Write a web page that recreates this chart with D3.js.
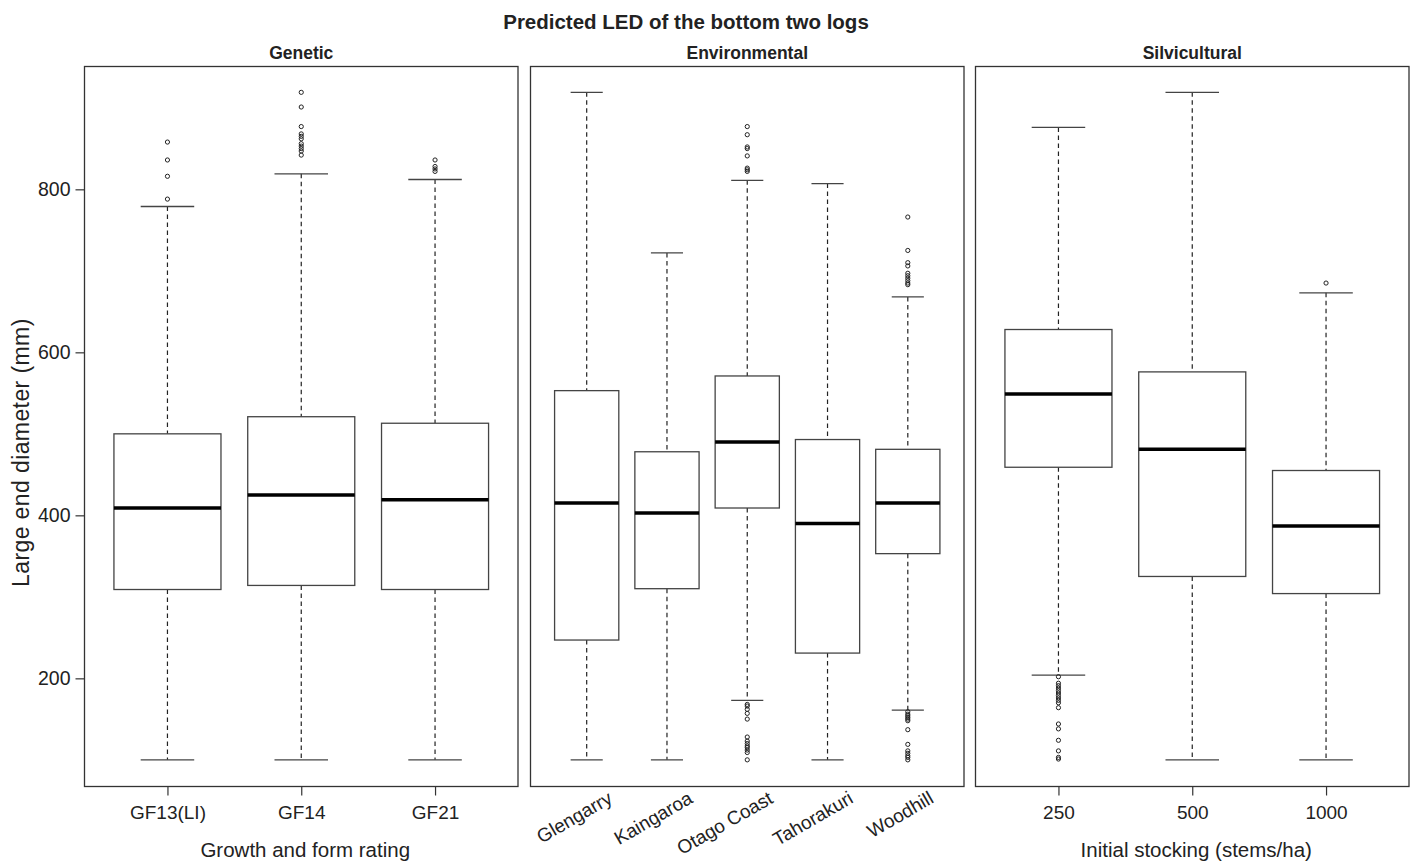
<!DOCTYPE html>
<html>
<head>
<meta charset="utf-8">
<script src="https://cdn.jsdelivr.net/npm/d3@7"></script>
<style>
  body { margin: 0; background: #fff; }
  text { font-family: "Liberation Sans", Arial, sans-serif; fill: #222; }
</style>
</head>
<body>
<script>
// Boxplot data (mm)

// Genetic
var genCats = ["GF13(LI)", "GF14", "GF21"];
var genLo  = [100, 100, 100];
var genQ1  = [309, 314, 309];
var genMed = [409, 425, 419];
var genQ3  = [500, 521, 513];
var genHi  = [779, 819, 812];
var genOut = [
  [858, 836, 816, 788],
  [919, 901, 877, 868, 865, 862, 856, 853, 850, 847, 842],
  [836, 828, 825, 822]
];

// Environmental
var envCats = ["Glengarry", "Kaingaroa", "Otago Coast", "Tahorakuri", "Woodhill"];
var envLo  = [100, 100, 173, 100, 161];
var envQ1  = [247, 310, 409, 231, 353];
var envMed = [415, 403, 490, 390, 415];
var envQ3  = [553, 478, 571, 493, 481];
var envHi  = [919, 722, 811, 807, 668];
var envOut = [
  [],
  [],
  [877, 867, 852, 850, 841, 826, 824, 822, 168, 166, 162, 157, 150, 128, 123, 120, 117, 115, 112, 109, 100],
  [],
  [766, 725, 710, 706, 697, 694, 691, 688, 685, 683, 159, 156, 154, 152, 150, 148, 137, 119, 111, 108, 105, 103, 100]
];

// Silvicultural
var silCats = ["250", "500", "1000"];
var silLo  = [204, 100, 100];
var silQ1  = [459, 325, 304];
var silMed = [549, 481, 387];
var silQ3  = [628, 576, 455];
var silHi  = [876, 919, 673];
var silOut = [
  [202, 194, 191, 188, 185, 182, 179, 176, 173, 170, 164, 144, 138, 124, 111, 103, 101],
  [],
  [685]
];

var yTicks = [200, 400, 600, 800];

var panels = [
  {title: "Genetic", cats: genCats, lo: genLo, q1: genQ1, med: genMed, q3: genQ3, hi: genHi, out: genOut, xlab: "Growth and form rating", rot: false},
  {title: "Environmental", cats: envCats, lo: envLo, q1: envQ1, med: envMed, q3: envQ3, hi: envHi, out: envOut, xlab: "", rot: true},
  {title: "Silvicultural", cats: silCats, lo: silLo, q1: silQ1, med: silMed, q3: silQ3, hi: silHi, out: silOut, xlab: "Initial stocking (stems/ha)", rot: false}
];

var W = 1419, H = 863;
var top_y = 66.5, bot_y = 786.5;
var panelLeft = [84.5, 530.5, 975.5];
var panelW = 433.5;

var svg = d3.select("body").append("svg")
  .attr("width", W).attr("height", H);

// y range like R: data range 100..918 plus 4%
var yScale = d3.scaleLinear().domain([67.3, 950.7]).range([bot_y, top_y]);

svg.append("text")
  .attr("x", 686).attr("y", 29)
  .attr("text-anchor", "middle")
  .style("font-size", "20.5px").style("font-weight", "bold")
  .text("Predicted LED of the bottom two logs");

panels.forEach(function(p, k) {
  var x0 = panelLeft[k];
  var n = p.cats.length;
  var xScale = d3.scalePoint().domain(p.cats)
    .range([x0, x0 + panelW]).padding(0.5 + 0.04 * n);
  var step = xScale.step();
  var g = svg.append("g");

  // panel title
  g.append("text")
    .attr("x", x0 + panelW / 2).attr("y", 59)
    .attr("text-anchor", "middle")
    .style("font-size", "17.5px").style("font-weight", "bold")
    .text(p.title);

  var data = p.cats.map(function(c, i) {
    return {c: c, lo: p.lo[i], q1: p.q1[i], med: p.med[i], q3: p.q3[i], hi: p.hi[i], out: p.out[i]};
  });

  var box = g.selectAll(".box").data(data).enter().append("g");

  // dashed whiskers
  box.append("line")
    .attr("x1", function(d) { return xScale(d.c); })
    .attr("x2", function(d) { return xScale(d.c); })
    .attr("y1", function(d) { return yScale(d.hi); })
    .attr("y2", function(d) { return yScale(d.q3); })
    .attr("stroke", "#222").attr("stroke-width", 1.2).attr("stroke-dasharray", "4.5,3.5");
  box.append("line")
    .attr("x1", function(d) { return xScale(d.c); })
    .attr("x2", function(d) { return xScale(d.c); })
    .attr("y1", function(d) { return yScale(d.q1); })
    .attr("y2", function(d) { return yScale(d.lo); })
    .attr("stroke", "#222").attr("stroke-width", 1.2).attr("stroke-dasharray", "4.5,3.5");

  // staples
  ["hi", "lo"].forEach(function(key) {
    box.append("line")
      .attr("x1", function(d) { return xScale(d.c) - 0.2 * step; })
      .attr("x2", function(d) { return xScale(d.c) + 0.2 * step; })
      .attr("y1", function(d) { return yScale(d[key]); })
      .attr("y2", function(d) { return yScale(d[key]); })
      .attr("stroke", "#444").attr("stroke-width", 1.4);
  });

  // box
  box.append("rect")
    .attr("x", function(d) { return xScale(d.c) - 0.4 * step; })
    .attr("width", 0.8 * step)
    .attr("y", function(d) { return yScale(d.q3); })
    .attr("height", function(d) { return yScale(d.q1) - yScale(d.q3); })
    .attr("fill", "#fff").attr("stroke", "#444").attr("stroke-width", 1.3);

  // median
  box.append("line")
    .attr("x1", function(d) { return xScale(d.c) - 0.4 * step; })
    .attr("x2", function(d) { return xScale(d.c) + 0.4 * step; })
    .attr("y1", function(d) { return yScale(d.med); })
    .attr("y2", function(d) { return yScale(d.med); })
    .attr("stroke", "#000").attr("stroke-width", 3.5);

  // outliers
  box.selectAll("circle")
    .data(function(d) { return d.out.map(function(v) { return {c: d.c, v: v}; }); })
    .enter().append("circle")
    .attr("cx", function(d) { return xScale(d.c); })
    .attr("cy", function(d) { return yScale(d.v); })
    .attr("r", 2.1)
    .attr("fill", "none").attr("stroke", "#222").attr("stroke-width", 1);

  // frame
  g.append("rect")
    .attr("x", x0).attr("y", top_y)
    .attr("width", panelW).attr("height", bot_y - top_y)
    .attr("fill", "none").attr("stroke", "#333").attr("stroke-width", 1.3);

  // x axis
  if (!p.rot) {
    var xAxis = d3.axisBottom(xScale).tickSize(9).tickPadding(10);
    var ax = g.append("g").attr("transform", "translate(0," + bot_y + ")").call(xAxis);
    ax.select(".domain").remove();
    ax.selectAll("line").attr("stroke", "#333").attr("stroke-width", 1.2);
    ax.selectAll("text").style("font-size", "19px").attr("fill", "#222");
    g.append("text")
      .attr("x", x0 + panelW / 2 + 4).attr("y", 857)
      .attr("text-anchor", "middle")
      .style("font-size", "20.5px")
      .text(p.xlab);
  } else {
    // rotated labels, no tick marks
    g.selectAll(".rlab").data(p.cats).enter().append("text")
      .attr("text-anchor", "end")
      .attr("transform", function(c) {
        return "translate(" + (xScale(c) + 27) + ",802) rotate(-30)";
      })
      .style("font-size", "19px")
      .text(function(c) { return c; });
  }

  // y axis on the first panel only
  if (k === 0) {
    var yAxis = d3.axisLeft(yScale).tickValues(yTicks).tickSize(9).tickPadding(5);
    var ay = g.append("g").attr("transform", "translate(" + x0 + ",0)").call(yAxis);
    ay.select(".domain").remove();
    ay.selectAll("line").attr("stroke", "#333").attr("stroke-width", 1.2);
    ay.selectAll("text").style("font-size", "19.5px").attr("fill", "#222");
    g.append("text")
      .attr("transform", "translate(28.5,587) rotate(-90)")
      .attr("text-anchor", "start")
      .style("font-size", "23px")
      .style("letter-spacing", "0.4px")
      .text("Large end diameter (mm)");
  }
});
</script>
</body>
</html>
